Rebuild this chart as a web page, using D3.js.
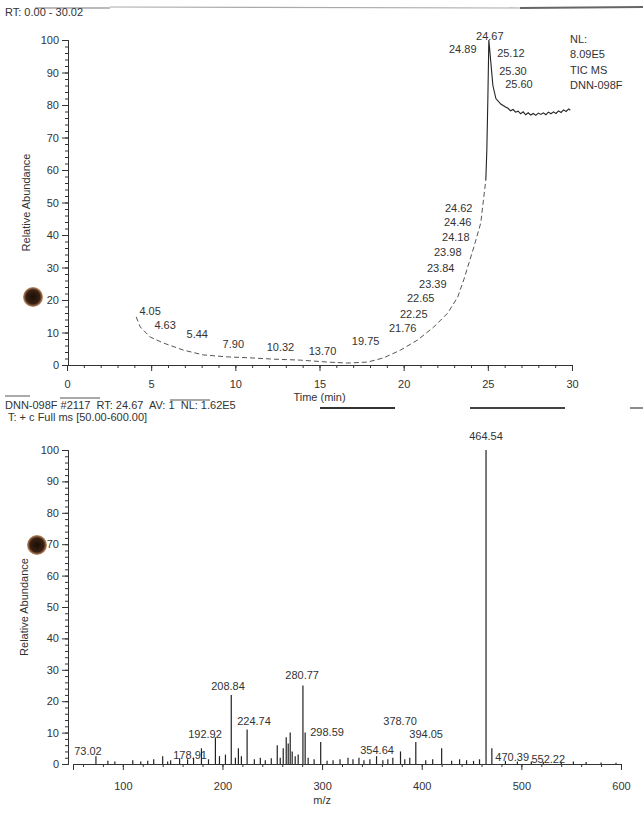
<!DOCTYPE html>
<html>
<head>
<meta charset="utf-8">
<script src="https://cdn.jsdelivr.net/npm/d3@7"></script>
<style>
body { margin: 0; background: #fff; }
text { font-family: "Liberation Sans", Arial, sans-serif; fill: #333; font-size: 11px; }
</style>
</head>
<body>
<svg id="chart" width="643" height="819"></svg>
<script>
// ---- chromatogram (TIC) ----
var ticTime = [4.11, 4.35, 4.94, 5.71, 6.90, 8.10, 9.52, 10.89, 12.26, 13.87, 15.48, 16.67, 17.86, 18.81,
  19.82, 20.83, 21.79, 22.62, 23.21, 23.57, 24.17, 24.58, 24.76, 24.88, 24.94, 25.0, 25.06,
  25.18, 25.3, 25.48, 25.77, 26.05, 26.2, 26.35, 26.5, 26.65, 26.8, 26.95, 27.1, 27.25, 27.4, 27.55,
  27.7, 27.85, 28.0, 28.15, 28.3, 28.45, 28.6, 28.75, 28.9, 29.05, 29.2, 29.35, 29.5, 29.65, 29.8, 29.9];
var ticAbund = [14.8, 11.7, 8.6, 6.8, 4.6, 3.1, 2.5, 2.2, 1.8, 1.5, 0.9, 0.6, 0.9, 2.2,
  4.6, 7.7, 11.7, 16.0, 20.9, 26.2, 36.3, 43.7, 51.7, 56.9, 66, 81.5, 100,
  93, 86, 82, 80.3, 79.4, 79.0, 78.2, 78.6, 77.8, 78.1, 77.3, 77.9, 77.0, 77.6, 76.9,
  77.4, 76.8, 77.5, 77.1, 77.6, 77.0, 77.8, 77.3, 77.9, 77.4, 78.2, 77.7, 78.5, 78.0, 78.8, 78.4];
// peak labels: text, anchor time, anchor abundance
var ticLabelText = ["4.05", "4.63", "5.44", "7.90", "10.32", "13.70", "19.75", "21.76", "22.25", "22.65",
  "23.39", "23.84", "23.98", "24.18", "24.46", "24.62", "24.67", "24.89", "25.12", "25.30", "25.60"];
var ticLabelTime = [4.94, 5.83, 7.74, 9.88, 12.68, 15.18, 17.74, 19.94, 20.6, 21.01,
  21.73, 22.2, 22.62, 23.1, 23.21, 23.27, 25.12, 23.51, 26.37, 26.49, 26.85];
var ticLabelAbund = [16.3, 12.0, 9.2, 6.2, 5.2, 4.0, 7.1, 11.1, 15.4, 20.3,
  24.6, 29.5, 34.5, 39.1, 43.7, 48.0, 100.9, 96.9, 95.7, 90.2, 86.2];
var ticInfo = ["NL:", "8.09E5", "TIC  MS", "DNN-098F"];
var timeTicks = [0, 5, 10, 15, 20, 25, 30];
var abundTicks = [0, 10, 20, 30, 40, 50, 60, 70, 80, 90, 100];

// ---- mass spectrum ----
var peakMz = [73.02, 85, 92, 110, 118, 125, 131, 140, 145, 148, 157, 165, 171, 178.91, 186, 192.92, 197, 203,
  208.84, 213, 216, 219, 224.74, 232, 238, 243, 249, 255, 258, 261, 264, 266, 268, 270, 273, 276,
  280.77, 283, 286, 292, 298.59, 305, 311, 318, 326, 331, 337, 342, 348, 354.64, 361, 366, 371,
  378.70, 383, 388, 394.05, 404, 411, 420, 430, 438, 445, 452, 458, 464.54, 470.39, 484, 496, 510,
  522, 540, 552.22, 565, 580, 595];
var peakInt = [2.5, 1.0, 0.8, 1.2, 0.8, 1.0, 1.5, 2.5, 0.8, 1.2, 1.8, 1.5, 2.0, 5.0, 1.5, 8.5, 2.5, 3.0,
  22, 2.0, 5.0, 2.5, 11, 1.5, 2.0, 1.2, 1.8, 6.0, 2.0, 5.0, 8.5, 6.5, 10, 4.0, 2.5, 3.0,
  25, 10, 2.0, 1.5, 7.0, 1.0, 1.2, 1.5, 2.0, 1.5, 2.0, 1.2, 1.5, 2.5, 1.2, 1.5, 2.0,
  4.0, 1.5, 2.0, 7.0, 1.2, 1.5, 5.0, 1.0, 1.5, 1.2, 1.0, 1.5, 100, 5.0, 1.0, 0.8, 0.8,
  0.6, 0.7, 0.8, 0.6, 0.5, 0.4];
var specLabelText = ["73.02", "178.91", "192.92", "208.84", "224.74", "280.77", "298.59", "354.64",
  "378.70", "394.05", "464.54", "470.39", "552.22"];
var specLabelMz = [65, 167.5, 182.5, 205.6, 231.7, 280, 305, 355.2, 378.3, 404.4, 464.5, 490.8, 527];
var specLabelInt = [3.8, 2.6, 9.3, 24.4, 13.5, 27.9, 9.9, 4.2, 13.5, 9.3, 104, 1.9, 1.3];
var mzTicks = [100, 200, 300, 400, 500, 600];

var svg = d3.select("#chart");

// scan artefacts along the page
var scanLines = [[35, 8, 110, 8, 1.2, "#777"], [110, 7, 520, 8, 1.2, "#aaa"], [520, 8, 643, 7, 2, "#666"],
  [5, 396, 30, 396, 1, "#555"], [60, 398, 100, 398, 1, "#555"], [170, 400, 210, 400, 1, "#555"],
  [320, 408, 395, 408, 2, "#333"], [470, 408, 565, 408, 2, "#444"], [630, 408, 643, 408, 1.5, "#666"]];
svg.selectAll("line.scan").data(scanLines).enter().append("line")
  .attr("class", "scan")
  .attr("x1", d => d[0]).attr("y1", d => d[1]).attr("x2", d => d[2]).attr("y2", d => d[3])
  .attr("stroke-width", d => d[4]).attr("stroke", d => d[5]);

var grad = svg.append("defs").append("radialGradient").attr("id", "hole");
grad.append("stop").attr("offset", "0%").attr("stop-color", "#1a0e08");
grad.append("stop").attr("offset", "70%").attr("stop-color", "#3a2012");
grad.append("stop").attr("offset", "100%").attr("stop-color", "#c9956a");
svg.selectAll("circle.hole").data([[33, 297], [37, 545]]).enter().append("circle")
  .attr("cx", d => d[0]).attr("cy", d => d[1]).attr("r", 10).attr("fill", "url(#hole)");

// ===== top: chromatogram =====
svg.append("text").attr("x", 5).attr("y", 16).text("RT: 0.00 - 30.02");

var xT = d3.scaleLinear().domain([0, 30]).range([67, 572]);
var yT = d3.scaleLinear().domain([0, 100]).range([365, 40]);

var gTop = svg.append("g");
gTop.append("g").attr("transform", "translate(0,365)")
  .call(d3.axisBottom(xT).tickValues(d3.range(0, 31, 1)).tickSize(3).tickFormat(""));
gTop.append("g").attr("transform", "translate(0,365)")
  .call(d3.axisBottom(xT).tickValues(timeTicks).tickSize(6).tickPadding(9).tickFormat(d3.format("d")));
gTop.append("g").attr("transform", "translate(68,0)")
  .call(d3.axisLeft(yT).tickValues(d3.range(0, 101, 2)).tickSize(3).tickFormat(""));
gTop.append("g").attr("transform", "translate(68,0)")
  .call(d3.axisLeft(yT).tickValues(abundTicks).tickSize(6).tickPadding(3).tickFormat(d3.format("d")));

var ticPts = ticTime.map((t, i) => [t, ticAbund[i]]);
var ticLine = d3.line().x(d => xT(d[0])).y(d => yT(d[1]));
gTop.append("path").datum(ticPts.filter(d => d[0] <= 24.9))
  .attr("d", ticLine).attr("fill", "none").attr("stroke", "#555")
  .attr("stroke-width", 1).attr("stroke-dasharray", "5,3");
gTop.append("path").datum(ticPts.filter(d => d[0] >= 24.88))
  .attr("d", ticLine).attr("fill", "none").attr("stroke", "#222").attr("stroke-width", 1.1);

gTop.selectAll("text.plab").data(ticLabelText).enter().append("text")
  .attr("class", "plab")
  .attr("x", (d, i) => xT(ticLabelTime[i])).attr("y", (d, i) => yT(ticLabelAbund[i]))
  .attr("text-anchor", "middle").attr("dominant-baseline", "middle")
  .text(d => d);

gTop.selectAll("text.info").data(ticInfo).enter().append("text")
  .attr("class", "info")
  .attr("x", xT(30) - 2).attr("y", (d, i) => yT(100) + i * 15.5)
  .attr("dominant-baseline", "middle").text(d => d);

svg.append("text").attr("transform", "translate(30," + yT(50) + ") rotate(-90)")
  .attr("text-anchor", "middle").text("Relative Abundance");
svg.append("text").attr("x", xT(15)).attr("y", 401).attr("text-anchor", "middle").text("Time (min)");

// ===== bottom: mass spectrum =====
svg.append("text").attr("x", 5).attr("y", 409).attr("xml:space", "preserve")
  .text("DNN-098F #2117  RT: 24.67  AV: 1  NL: 1.62E5");
svg.append("text").attr("x", 8).attr("y", 421).text("T: + c Full ms [50.00-600.00]");

var xB = d3.scaleLinear().domain([50, 600]).range([73, 621]);
var yB = d3.scaleLinear().domain([0, 100]).range([764, 450]);

var gBot = svg.append("g");
gBot.append("g").attr("transform", "translate(0,764)")
  .call(d3.axisBottom(xB).tickValues(d3.range(60, 601, 20)).tickSize(3).tickFormat(""));
gBot.append("g").attr("transform", "translate(0,764)")
  .call(d3.axisBottom(xB).tickValues(mzTicks).tickSize(6).tickPadding(12).tickFormat(d3.format("d")));
gBot.append("g").attr("transform", "translate(68,0)")
  .call(d3.axisLeft(yB).tickValues(d3.range(0, 101, 2)).tickSize(3).tickFormat(""));
gBot.append("g").attr("transform", "translate(68,0)")
  .call(d3.axisLeft(yB).tickValues(abundTicks).tickSize(6).tickPadding(3).tickFormat(d3.format("d")));

gBot.selectAll("line.peak").data(peakMz).enter().append("line")
  .attr("class", "peak")
  .attr("x1", d => xB(d)).attr("x2", d => xB(d))
  .attr("y1", yB(0)).attr("y2", (d, i) => yB(peakInt[i]))
  .attr("stroke", "#222").attr("stroke-width", 1.2);

gBot.selectAll("text.slab").data(specLabelText).enter().append("text")
  .attr("class", "slab")
  .attr("x", (d, i) => xB(specLabelMz[i])).attr("y", (d, i) => yB(specLabelInt[i]))
  .attr("text-anchor", "middle").attr("dominant-baseline", "middle")
  .text(d => d);

svg.append("text").attr("transform", "translate(28," + yB(50) + ") rotate(-90)")
  .attr("text-anchor", "middle").text("Relative Abundance");
svg.append("text").attr("x", xB(300)).attr("y", 804).attr("text-anchor", "middle").text("m/z");

svg.selectAll(".domain").attr("stroke", "#333");
svg.selectAll(".tick line").attr("stroke", "#333");
svg.selectAll(".tick text").attr("fill", "#333").style("font-size", "11px")
  .style("font-family", "Liberation Sans, Arial, sans-serif");
</script>
</body>
</html>
